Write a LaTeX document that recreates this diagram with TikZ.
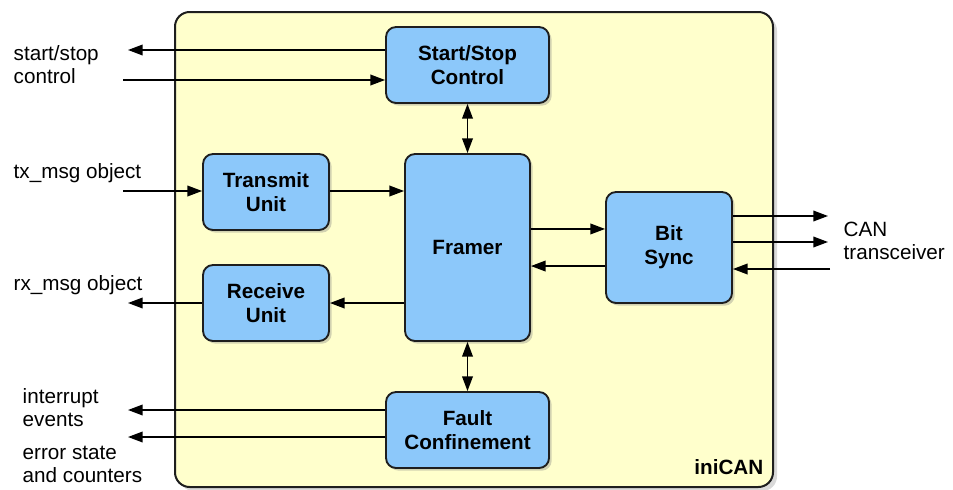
\documentclass[tikz,border=0pt]{standalone}
\usepackage{fontspec}
\setmainfont{Liberation Sans}
\usetikzlibrary{arrows.meta,shadows}
\definecolor{chipyellow}{RGB}{255,255,204}
\definecolor{blockblue}{RGB}{140,200,250}
\definecolor{edgegray}{RGB}{30,30,30}

\begin{document}
\begin{tikzpicture}[x=0.75pt, y=-0.75pt, line width=1.1pt, >={Triangle[length=11pt,width=8pt]},
    block/.style={draw=edgegray, line width=1.4pt, fill=blockblue, rounded corners=7.5pt, align=center,
      font=\fontsize{15.5}{17.8}\selectfont\bfseries,
      drop shadow={shadow xshift=2pt, shadow yshift=-2pt, opacity=0.35}},
    lbl/.style={anchor=west, align=left, inner sep=0pt, font=\fontsize{15.5}{17.3}\selectfont}]
    \useasboundingbox (0,0) rectangle (953,489);

    % Chip outline
    \node[draw=edgegray, line width=1.5pt, fill=chipyellow, rounded corners=11pt,
      minimum width=448.5pt, minimum height=356.25pt,
      drop shadow={shadow xshift=3pt, shadow yshift=-3pt, opacity=0.3}] (chip) at (474,249.5) {};
    \node[anchor=east, inner sep=0pt, font=\fontsize{15.5}{17.8}\selectfont\bfseries] (name) at (764,467) {iniCAN};

    % Nodes
    \node[block, minimum width=122.25pt, minimum height=57pt] (ss) at (467.5,65) {Start/Stop\\Control};
    \node[block, minimum width=94.5pt, minimum height=57pt] (tx) at (266,192) {Transmit\\Unit};
    \node[block, minimum width=94.5pt, minimum height=57pt] (rx) at (266,303) {Receive\\Unit};
    \node[block, minimum width=93.75pt, minimum height=140.25pt] (fr) at (467.5,247.5) {Framer};
    \node[block, minimum width=94.5pt, minimum height=83.25pt] (bs) at (669,247.5) {Bit\\Sync};
    \node[block, minimum width=122.25pt, minimum height=57pt] (fc) at (467.5,430) {Fault\\Confinement};

    % Labels
    \node[lbl] (sslbl) at (13,64.5) {start/stop\\control};
    \node[lbl] (txlbl) at (13,173) {tx\_msg object};
    \node[lbl] (rxlbl) at (13,285) {rx\_msg object};
    \node[lbl] (irqlbl) at (22,407.5) {interrupt\\events};
    \node[lbl] (errlbl) at (22,464.5) {error state\\and counters};
    \node[lbl] (canlbl) at (843,240.5) {CAN\\transceiver};

    % Free ends
    \coordinate (ssout) at (128,50);
    \coordinate (ssin) at (123,80);
    \coordinate (txin) at (123,191);
    \coordinate (rxout) at (128,303);
    \coordinate (irqout) at (128,410);
    \coordinate (errout) at (128,437);
    \coordinate (canout1) at (828,216);
    \coordinate (canout2) at (828,242);
    \coordinate (canin) at (830,269);

    % Arrows
    \draw[->] (ss.west |- ssout) -- (ssout);
    \draw[->] (ssin) -- (ssin -| ss.west);
    \draw[<->] (ss.south) -- (fr.north);
    \draw[->] (txin) -- (txin -| tx.west);
    \draw[->] (tx.east |- txin) -- (txin -| fr.west);
    \draw[->] (rx.east -| fr.west) -- (rx.east);
    \draw[->] (rx.west) -- (rxout);
    \draw[->] ([yshift=13.9pt]fr.east) -- ([yshift=13.9pt]fr.east -| bs.west);
    \draw[->] ([yshift=-13.9pt]fr.east -| bs.west) -- ([yshift=-13.9pt]fr.east);
    \draw[->] (bs.east |- canout1) -- (canout1);
    \draw[->] (bs.east |- canout2) -- (canout2);
    \draw[->] (canin) -- (canin -| bs.east);
    \draw[<->] (fr.south) -- (fc.north);
    \draw[->] (fc.west |- irqout) -- (irqout);
    \draw[->] (fc.west |- errout) -- (errout);
\end{tikzpicture}
\end{document}
